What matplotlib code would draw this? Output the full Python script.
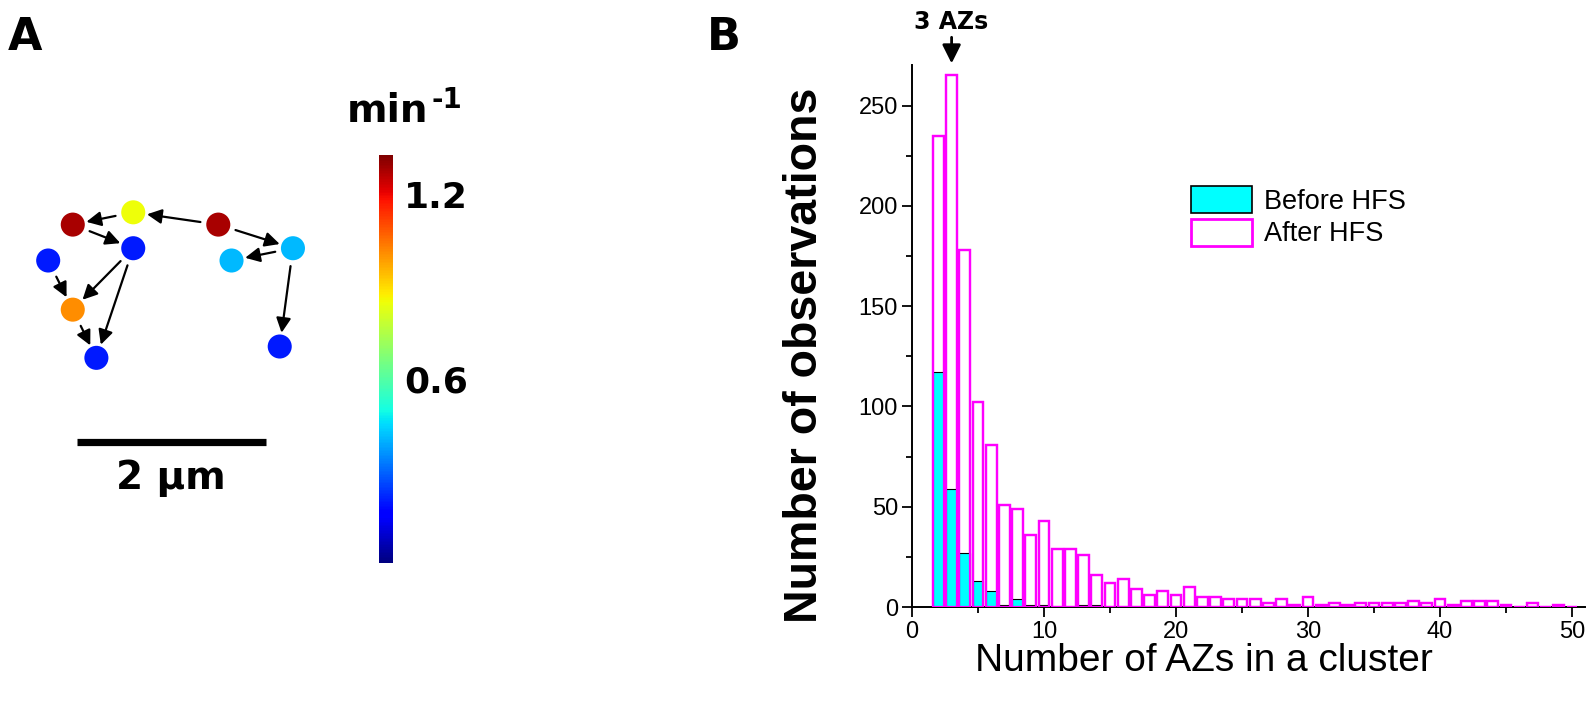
import numpy as np
import matplotlib.pyplot as plt
from matplotlib import cm, colors
from matplotlib.patches import Patch

# ---- panel A: AZ network (positions in um), rate in min^-1
node_x = [0.77, 1.41, 2.31, 1.41, 0.51, 3.10, 2.45, 0.77, 1.02, 2.96]
node_y = [5.20, 5.33, 5.20, 4.95, 4.82, 4.95, 4.82, 4.30, 3.79, 3.91]
node_rate = [1.28, 0.85, 1.28, 0.20, 0.20, 0.41, 0.41, 1.01, 0.20, 0.20]
edges = [(1, 0), (2, 1), (0, 3), (2, 5), (5, 6), (3, 7), (3, 8), (4, 7), (7, 8), (5, 9)]
rate_max = 1.33
cbar_ticks = [0.6, 1.2]

# ---- panel B: cluster size histogram
sizes = list(range(2, 51))
after_hfs = [235, 265, 178, 102, 81, 51, 49, 36, 43, 29, 29, 26, 16, 12, 14, 9, 6, 8, 6, 10,
             5, 5, 4, 4, 4, 2, 4, 1, 5, 1, 2, 1, 2, 2, 2, 2, 3, 2, 4, 1, 3, 3, 3, 1, 0, 2, 0, 1, 0]
before_hfs = [117, 59, 27, 13, 8, 1, 4, 1, 1, 0, 0, 1, 1] + [0] * 36

W, H = 1595, 716
fig = plt.figure(figsize=(W / 100, H / 100), dpi=100)


def px(l, b, r, t):
    return [l / W, 1 - b / H, (r - l) / W, (b - t) / H]


bold = dict(family='DejaVu Sans', weight='bold')
arial = ['Liberation Sans', 'DejaVu Sans']

# panel A
um = 94.5  # pixels per um
ax_a = fig.add_axes(px(0, 716, 360, 0))
ax_a.set_xlim(0, 360 / um)
ax_a.set_ylim(0, 716 / um)
ax_a.axis('off')
norm = colors.Normalize(0, rate_max)
for i, j in edges:
    ax_a.annotate('', xy=(node_x[j], node_y[j]), xytext=(node_x[i], node_y[i]),
                  arrowprops=dict(arrowstyle='-|>', color='black', lw=1.6,
                                  mutation_scale=22, shrinkA=13, shrinkB=10))
ax_a.scatter(node_x, node_y, c=node_rate, cmap='jet', norm=norm, s=300, linewidths=0, zorder=3)
ax_a.plot([0.81, 2.81], [2.90, 2.90], color='black', lw=5.2, solid_capstyle='butt')
ax_a.text(1.81, 2.52, '2 µm', ha='center', va='center', fontsize=28, **bold)

cax = fig.add_axes(px(379, 563, 393, 155))
cb = fig.colorbar(cm.ScalarMappable(norm=norm, cmap='jet'), cax=cax, ticks=cbar_ticks)
cb.outline.set_visible(False)
cax.tick_params(length=0, pad=8)
for t in cax.get_yticklabels():
    t.set_fontsize(26)
    t.set_fontweight('bold')
    t.set_family('DejaVu Sans')
fig.text(347 / W, 1 - 122 / H, 'min', fontsize=28, ha='left', va='baseline', **bold)
fig.text(432 / W, 1 - 108 / H, '-1', fontsize=20, ha='left', va='baseline', **bold)

fig.text(8 / W, 1 - 50 / H, 'A', fontsize=32, va='baseline', **bold)
fig.text(707 / W, 1 - 50 / H, 'B', fontsize=32, va='baseline', **bold)

# panel B
ax_b = fig.add_axes(px(912, 607, 912 + 51 * 13.2, 607 - 270 * 2.006))
ax_b.bar(sizes, after_hfs, width=0.82, color='white', edgecolor='#ff00ff', lw=1.6, zorder=2)
ax_b.bar(sizes, before_hfs, width=0.82, color='#00ffff', edgecolor='black', lw=0.8, zorder=3)
ax_b.bar(sizes, after_hfs, width=0.82, fill=False, edgecolor='#ff00ff', lw=1.6, zorder=4)
ax_b.set_xlim(0, 51)
ax_b.set_ylim(0, 270)
ax_b.set_xticks(range(0, 51, 10))
ax_b.set_xticks(range(5, 51, 10), minor=True)
ax_b.set_yticks(range(0, 251, 50))
ax_b.set_yticks(range(25, 251, 50), minor=True)
for s in ['top', 'right']:
    ax_b.spines[s].set_visible(False)
for s in ['left', 'bottom']:
    ax_b.spines[s].set_linewidth(1.4)
ax_b.tick_params(which='major', direction='out', length=7, width=1.3, labelsize=17, pad=3)
ax_b.tick_params(which='minor', direction='out', length=4, width=1.3)
for t in ax_b.get_xticklabels() + ax_b.get_yticklabels():
    t.set_family(arial)

handles = [Patch(facecolor='#00ffff', edgecolor='black', lw=1.2, label='Before HFS'),
           Patch(facecolor='white', edgecolor='#ff00ff', lw=2, label='After HFS')]
ax_b.legend(handles=handles, loc='upper left', bbox_to_anchor=(0.414, 0.777), frameon=False,
            prop=dict(family=arial, size=19.5), handlelength=2.25, handleheight=1.15,
            labelspacing=0.15, handletextpad=0.45, borderpad=0, borderaxespad=0)

ax_b.text(3, 291.6, '3 AZs', ha='center', va='center', fontsize=17, clip_on=False, **bold)
ax_b.annotate('', xy=(3, 271), xytext=(3, 284), annotation_clip=False,
              arrowprops=dict(arrowstyle='-|>', color='black', lw=2, mutation_scale=28,
                              shrinkA=0, shrinkB=0))

fig.text(805 / W, 1 - 355 / H, 'Number of observations', rotation=90, ha='center', va='center',
         fontsize=33.5, family=arial, weight='bold')
fig.text(1204 / W, 1 - 661 / H, 'Number of AZs in a cluster', ha='center', va='center',
         fontsize=28, family=arial)

fig.savefig('out.png', dpi=100)
